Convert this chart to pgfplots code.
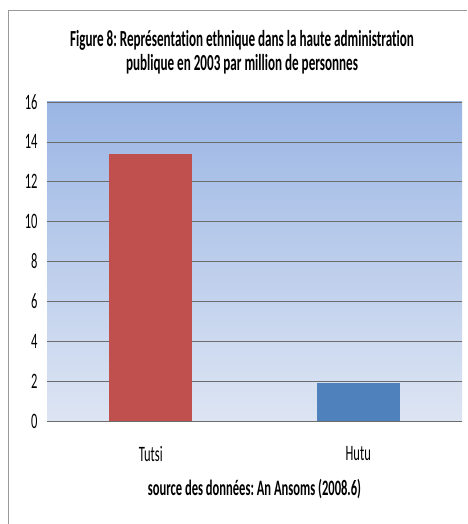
\documentclass[border=0pt]{standalone}
\usepackage{pgfplots}
\pgfplotsset{compat=1.18}
\usepackage{fontspec}
\setmainfont{Carlito}[FakeStretch=0.57, Ligatures=NoCommon]
\frenchspacing
\definecolor{barred}{RGB}{192,80,77}
\definecolor{barblue}{RGB}{79,129,189}
\definecolor{bgtop}{RGB}{155,182,228}
\definecolor{bgbot}{RGB}{221,229,243}
\begin{document}
\begin{tikzpicture}
\useasboundingbox (0pt,0pt) rectangle (467pt,524pt);
\draw[gray!80] (8pt,0pt) -- (8pt,514pt) -- (467pt,514pt);
\node[font=\fontsize{23}{24}\selectfont\bfseries, align=center] at (242pt,472pt)
  {Figure 8: Représentation ethnique dans la haute administration\\publique en 2003 par million de personnes};
\begin{axis}[
  at={(47pt,103pt)}, anchor=south west,
  scale only axis, width=415pt, height=319pt,
  ybar, bar width=83pt,
  xmin=-0.5, xmax=1.5, ymin=0, ymax=16,
  xtick={0,1}, xticklabels={Tutsi,Hutu},
  ytick={0,2,...,16},
  ymajorgrids, grid style={gray!85!black, line width=0.6pt},
  axis x line=bottom, axis y line=left,
  x axis line style={-, gray!85!black, line width=0.6pt},
  y axis line style={draw=none},
  major tick length=0pt,
  tick label style={font=\fontsize{22}{22}\selectfont},
  /pgf/number format/assume math mode=true,
  xticklabel style={yshift=-22pt},
  yticklabel style={xshift=-6pt},
  xlabel={\bfseries source des données: An Ansoms (2008.6)},
  xlabel style={font=\fontsize{22}{22}\selectfont, yshift=-10pt},
  axis background/.style={top color=bgtop, bottom color=bgbot},
]
\addplot[fill=barred, draw=none, bar shift=0pt] coordinates {(0,13.4)};
\addplot[fill=barblue, draw=none, bar shift=0pt] coordinates {(1,1.9)};
\end{axis}
\end{tikzpicture}
\end{document}
